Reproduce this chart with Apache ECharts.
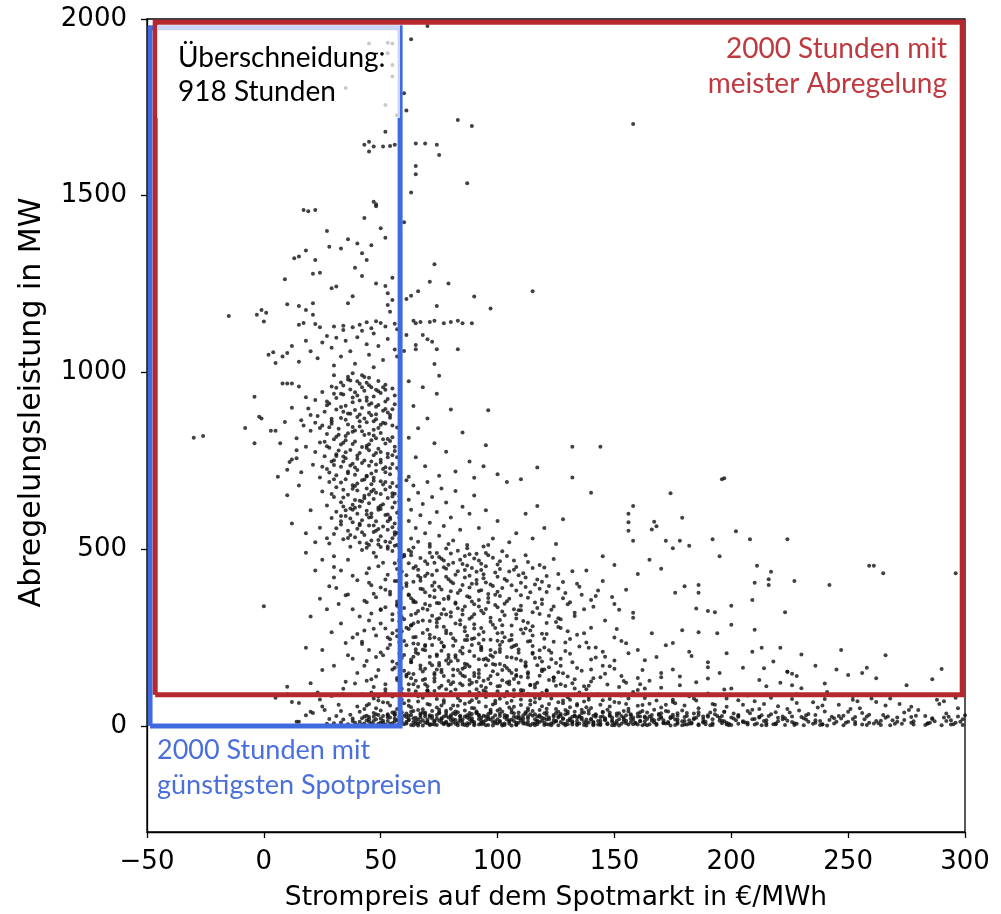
<!DOCTYPE html>
<html>
<head>
<meta charset="utf-8">
<script src="https://cdn.jsdelivr.net/npm/echarts@6/dist/echarts.min.js"></script>
<style>
  html, body { margin: 0; padding: 0; background: #fff; }
  #chart { width: 1001px; height: 914px; }
</style>
</head>
<body>
<div id="chart"></div>
<script>
var topPoints = [
  [70,1980],[63,1943],[45,1931],[53,1933],[55,1931],[53,1903],[55,1870],[55,1837],[52,1757],[57,1728],[35,1805],[28,1805],
  [60,1790],[61,1741],[83,1714],[89,1697],[158,1703],[52,1681],[43,1644],[45,1653],[47,1639],[45,1625],[51,1639],[54,1641],
  [56,1644],[65,1648],[69,1648],[74,1644],[75,1615],[65,1584],[65,1561],[87,1535],[63,1509],[47,1483],[48,1476],[48,1470],
  [17,1460],[19,1456],[22,1460],[43,1437],[60,1425],[27,1400],[50,1408],[52,1381],[36,1377],[40,1365],[33,1351],[28,1356],
  [46,1360],[42,1337],[44,1318],[18,1345],[22,1318],[13,1323],[15,1328],[39,1296],[73,1306],[24,1282],[21,1279],[42,1273],
  [9,1264],[55,1268],[71,1257],[79,1252],[48,1252],[52,1245],[53,1224],[31,1243],[29,1238],[115,1230],[66,1230],[63,1217],
  [61,1208],[90,1215],[38,1216],[36,1196],[21,1196],[10,1193],[15,1188],[74,1188],[97,1181],[18,1177],[21,1163],[-1,1177],
  [1,1169],[-3,1163],[0,1144],[-15,1160],[53,1191],[54,1172],[55,1205],[64,1146],[67,1143],[71,1143],[73,1146],[77,1139],
  [80,1143],[83,1146],[85,1139],[89,1139],[65,1139],[15,1135],[17,1140],[22,1137],[24,1128],[30,1130],[34,1132],[34,1120],
  [38,1128],[41,1135],[44,1142],[46,1125],[48,1145],[42,1118],[50,1140],[52,1130],[47,1110],[56,1138],[57,1122],[61,1106],
  [68,1106],[70,1094],[72,1087],[65,1078],[65,1066],[74,1066],[83,1066],[60,1061],[73,1024],[75,991],[2,1050],[4,1057],
  [8,1045],[10,1055],[5,1027],[27,1103],[31,1098],[25,1085],[35,1090],[40,1100],[44,1080],[18,1090],[12,1075],[20,1060],
  [29,1070],[37,1060],[49,1075],[53,1095],[56,1065],[45,1050],[23,1040],[33,1045],[51,1035],[39,1025],[47,1015],[57,1045],
  [30,1020],[15,1030]
];

var coreUpper = [
  [38,998],[42,992],[45,985],[36,980],[49,976],[33,972],[41,968],[52,965],[29,960],[46,958],[55,955],[37,952],[43,948],
  [25,945],[50,942],[34,938],[40,935],[47,932],[31,928],[53,925],[22,922],[44,920],[38,916],[28,912],[56,910],[35,906],
  [48,903],[42,900],[19,898],[31,895],[51,892],[26,889],[45,886],[37,883],[54,880],[23,877],[40,874],[33,871],[48,868],
  [16,865],[29,862],[44,859],[52,856],[36,853],[25,850],[41,847],[57,844],[32,841],[47,838],[20,835],[38,832],[50,829],
  [27,826],[43,823],[35,820],[55,817],[14,814],[30,811],[46,808],[39,805],[24,802],[52,799],[33,796],[44,793],[18,790],
  [28,787],[49,784],[37,781],[56,778],[22,775],[41,772],[31,769],[47,766],[26,763],[53,760],[35,757],[12,754],[43,751],
  [29,748],[50,745],[38,742],[21,739],[45,736],[33,733],[57,730],[27,727],[40,724],[48,721],[16,718],[36,715],[54,712],
  [31,709],[44,706],[24,703],[40,975],[34,963],[48,951],[30,940],[44,929],[52,918],[27,907],[39,894],[46,879],[35,866],
  [50,852],[24,843],[42,834],[32,824],[48,814],[38,798],[27,791],[45,780],[53,770],[34,762],[42,744],[30,738],[51,727],
  [39,711],[47,702],[56,790],[57,760],[58,722],[55,850],[56,935],[62,975],[68,958],[74,940],[64,905],[80,895],[96,893],
  [70,870],[66,842],[85,830],[62,815],[73,800],[95,794],[78,776],[65,760],[88,748],[94,735],[117,731],[69,735],[82,720],
  [100,712],[132,703],[62,705],[75,708],[90,702],[104,690],[110,698],[-8,843],[-4,931],[-4,800],[-2,875],[-1,870],[3,835],
  [5,835],[7,800],[6,705],[11,747],[14,757],[8,969],[10,969],[12,969],[-30,815],[-26,820],[15,960],[18,930],[12,900],
  [20,880],[9,860],[14,780],[10,725],[17,850],[43,987],[51,958],[39,944],[46,913],[33,902],[53,887],[41,862],[29,855],
  [49,843],[36,828],[54,806],[45,797],[32,779],[40,765],[50,753],[37,737],[55,741],[28,717],[46,714],[34,748],
  [36,988],[44,971],[31,957],[49,947],[38,929],[27,918],[45,909],[52,897],[34,889],[41,881],[29,869],[47,862],[54,872],
  [22,858],[38,846],[45,827],[31,818],[51,811],[26,804],[42,789],[48,772],[35,774],[55,766],[30,752],[46,748],[39,731],
  [52,718],[25,733]
];

var coreLower = [
  [35,698],[42,695],[50,692],[28,690],[55,687],[46,684],[38,681],[57,678],[31,675],[44,672],[52,669],[40,666],[25,663],
  [48,660],[56,657],[36,654],[43,651],[30,648],[53,645],[47,642],[39,639],[58,636],[33,633],[45,630],[51,627],[27,624],
  [41,621],[55,618],[37,615],[49,612],[44,609],[31,606],[57,603],[40,600],[52,597],[35,594],[46,591],[29,588],[54,585],
  [42,582],[48,579],[38,576],[56,573],[33,570],[45,567],[51,564],[24,561],[40,558],[53,555],[36,552],[47,549],[57,546],
  [30,543],[43,540],[50,537],[39,534],[55,531],[34,528],[46,525],[52,522],[41,519],[28,516],[49,513],[56,510],[37,507],
  [44,504],[53,501],[47,694],[40,686],[54,676],[34,668],[50,656],[43,644],[56,632],[38,626],[49,618],[35,610],[53,598],
  [45,590],[41,572],[55,562],[48,552],[37,540],[54,520],[45,512],[50,506],[33,594],[58,650],[58,590],[58,530],[10,653],
  [12,573],[18,545],[20,610],[15,680],[22,520],[61,695],[64,680],[70,690],[76,672],[66,660],[82,665],[72,648],[62,640],
  [90,652],[68,628],[78,632],[85,620],[63,612],[74,605],[95,610],[67,596],[80,590],[88,600],[62,580],[71,575],[77,566],
  [100,580],[65,560],[84,555],[92,560],[69,545],[75,538],[63,530],[81,525],[98,530],[108,545],[71,515],[87,512],[64,505],
  [78,502],[94,508],[105,520],[115,530],[117,622],[140,660],[128,585],[120,560],[112,600],[125,515],[174,658],[158,622],
  [156,600],[156,576],[156,552],[179,589],[167,578],[168,565],[166,556],[158,524],[172,524],[178,524],[182,510],[175,503],
  [192,528],[202,551],[208,528],[224,528],[197,701],[196,698],[144,790],[132,790],[43,697],[33,689],[51,683],[38,671],
  [46,663],[29,656],[55,649],[41,637],[34,621],[50,614],[44,598],[37,587],[53,579],[47,567],[31,559],[42,548],[56,541],
  [36,532],[49,526],[27,531],[44,517],[53,508],[58,700],[58,610],[58,560],[58,505]
];

var midPoints = [
  [42,498],[55,495],[63,492],[71,490],[80,488],[88,486],[96,483],[104,481],[48,479],[59,477],[67,475],[76,473],[84,470],
  [92,468],[101,466],[113,464],[51,462],[62,460],[70,458],[79,456],[87,454],[95,452],[108,450],[120,448],[45,446],[57,444],
  [66,442],[74,440],[83,438],[91,436],[99,434],[111,432],[126,430],[53,428],[61,426],[69,424],[78,422],[86,420],[94,418],
  [103,416],[117,414],[40,412],[56,410],[64,408],[73,406],[81,404],[89,402],[97,400],[106,398],[122,396],[135,394],[50,392],
  [59,390],[67,388],[76,386],[84,384],[92,382],[100,380],[114,378],[129,376],[47,374],[54,372],[62,370],[71,368],[79,366],
  [88,364],[96,362],[105,360],[119,358],[140,356],[43,354],[57,352],[65,350],[74,348],[82,346],[90,344],[99,342],[110,340],
  [124,338],[52,336],[60,334],[68,332],[77,330],[85,328],[93,326],[102,324],[115,322],[133,320],[46,318],[55,316],[63,314],
  [72,312],[80,310],[89,308],[97,306],[108,304],[127,302],[47,490],[60,484],[75,478],[90,474],[58,466],[73,462],[85,458],
  [100,457],[49,452],[64,447],[78,445],[93,441],[105,437],[44,432],[58,430],[72,427],[88,425],[100,422],[112,420],[52,414],
  [67,411],[80,409],[95,406],[110,405],[128,407],[46,398],[61,396],[75,394],[88,392],[102,390],[118,388],[54,380],[69,378],
  [83,376],[96,373],[110,370],[48,364],[63,361],[77,359],[92,356],[104,353],[131,350],[57,344],[71,341],[86,338],[100,336],
  [117,334],[50,328],[66,325],[80,322],[94,319],[108,316],[122,312],[59,308],[75,305],[88,303],[145,480],[150,455],[138,440],
  [160,430],[145,410],[155,385],[142,368],[150,345],[137,330],[158,320],[165,470],[170,445],[180,395],[186,399],[186,377],
  [176,377],[217,436],[216,415],[216,399],[210,405],[227,410],[242,399],[259,453],[261,453],[265,432],[296,432],[211,453],
  [209,356],[195,480],[200,340],[185,332],[190,325],[193,322],[223,322],[18,490],[25,470],[22,440],[30,420],[28,395],
  [35,370],[32,345],[38,330],[0,339],[24,360],[20,310],[36,470],[33,440],[30,480],[30,450],[38,425],[45,405],[52,385],
  [36,372],[44,350],[50,330],[41,310],[31,390],[27,330],[57,340],[57,410],[56,460],
  [57,512],[62,498],[66,521],[71,507],[74,489],[79,515],[83,496],[87,503],[91,487],[96,512],[102,494],[58,471],[63,483],
  [69,466],[72,478],[81,462],[86,481],[93,459],[98,476],[107,468],[112,483],[118,455],[124,472],[59,437],[65,452],[70,431],
  [77,449],[82,428],[89,447],[94,429],[101,444],[109,426],[115,447],[121,424],[132,438],[61,404],[67,419],[72,397],[79,415],
  [85,399],[91,413],[98,396],[104,411],[112,393],[119,408],[126,389],[134,402],[143,383],[62,372],[68,387],[73,364],[80,381],
  [87,367],[93,384],[101,368],[108,383],[113,363],[121,379],[128,361],[136,371],[149,365],[58,335],[64,351],[70,329],[75,347],
  [83,333],[89,352],[95,331],[103,346],[109,327],[116,349],[123,329],[130,344],[141,337],[152,329],[60,302],[65,318],[71,297],
  [78,315],[84,299],[90,316],[97,295],[103,313],[111,297],[118,317],[125,294],[133,311],[146,298],[158,306]
];

var lowMidPoints = [
  [45,298],[58,296],[66,294],[74,292],[82,290],[90,288],[98,286],[106,284],[115,282],[126,280],[140,278],[52,276],[62,274],
  [70,272],[78,270],[86,268],[94,266],[102,264],[111,262],[121,260],[134,258],[48,256],[57,254],[65,252],[73,250],[81,248],
  [89,246],[97,244],[105,242],[114,240],[124,238],[138,236],[155,234],[42,232],[54,230],[61,228],[69,226],[77,224],[85,222],
  [93,220],[101,218],[109,216],[118,214],[129,212],[145,210],[50,208],[58,206],[66,204],[74,202],[82,200],[90,198],[98,196],
  [106,194],[116,192],[127,190],[140,188],[163,186],[44,184],[55,182],[63,180],[71,178],[79,176],[87,174],[95,172],[103,170],
  [112,168],[122,166],[134,164],[150,162],[175,160],[49,158],[60,156],[68,154],[76,152],[84,150],[92,148],[100,146],[108,144],
  [118,142],[130,140],[144,138],[160,136],[190,134],[46,132],[57,130],[65,128],[73,126],[81,124],[89,122],[97,120],[105,118],
  [114,116],[125,114],[137,112],[152,110],[170,108],[200,106],[52,104],[62,102],[70,100],[50,290],[63,285],[77,281],[93,277],
  [110,273],[130,268],[55,262],[71,258],[87,255],[103,251],[120,247],[150,250],[60,240],[76,236],[92,233],[108,229],[135,225],
  [53,220],[68,216],[84,212],[99,208],[115,204],[160,215],[64,196],[79,192],[94,188],[110,185],[132,180],[57,176],[72,172],
  [88,168],[104,164],[120,160],[145,170],[67,162],[83,158],[98,155],[113,152],[128,149],[170,150],[61,145],[77,141],[92,137],
  [107,133],[122,130],[140,126],[155,122],[185,124],[69,118],[85,115],[100,112],[116,109],[133,106],[160,102],[75,108],
  [91,104],[47,110],[40,150],[36,200],[38,250],[43,270],[35,125],[30,170],[25,158],[18,221],[10,111],[20,121],[210,272],
  [186,265],[194,262],[200,286],[179,271],[198,206],[209,210],[213,221],[221,221],[230,202],[247,215],[266,200],[218,182],
  [214,163],[290,161],[286,132],[224,153],[228,141],[226,148],[236,170],[245,160],[250,144],[258,165],[256,150],[221,122],
  [230,107],[226,115],[175,235],[182,210],[168,195],[190,180],[205,165],[178,140],[195,150],[212,130],[165,128],[240,120],
  [275,115],[262,135],[55,300],[33,290],[47,275],[40,260],[53,250],[35,235],[45,215],[51,200],[38,190],[43,170],[55,160],
  [48,140],[39,120],[52,118],[34,105],[46,95],[57,270],[29,265],[42,238],[25,215],[44,128],[48,195],[56,165],[63,135],
  [70,112],[78,185],[86,140],[94,128],[101,175],[109,122],[117,172],[124,128],[54,245],[66,232],[78,262],[90,248],[102,238],
  [115,256],[83,185],[97,200],[73,150],[88,130],[106,150],[62,118],[74,160],[95,108],[111,100],[127,118],[140,160],[150,185],
  [146,148],[59,268],[63,284],[68,263],[74,281],[80,261],[86,279],[92,259],[99,277],[106,257],[112,276],[119,261],[127,277],
  [137,262],[151,274],[166,262],[58,237],[64,251],[69,229],[75,246],[81,227],[87,243],[93,224],[100,241],[106,223],[113,239],
  [120,222],[129,236],[139,221],[153,240],[172,228],[60,201],[65,217],[71,196],[76,213],[82,194],[88,211],[95,191],[101,209],
  [108,190],[115,207],[123,189],[131,204],[142,194],[156,206],[183,198],[58,167],[63,181],[69,162],[75,178],[81,160],[86,176],
  [92,158],[99,173],[105,157],[112,172],[119,155],[127,170],[136,156],[148,169],[162,158],[190,166],[57,136],[62,149],[68,130],
  [73,145],[79,127],[85,143],[91,125],[97,141],[104,123],[110,139],[117,122],[124,137],[132,121],[141,135],[154,127],[170,138],
  [59,105],[64,118],[70,101],[76,114],[82,103],[88,117],[94,100],[101,113],[107,102],[114,116],[121,101],[129,113],[138,104],
  [147,117],[163,106],[178,115],[197,103],[215,112]
];

var lowBand = [
  [36,5],[40,3],[43,7],[46,2],[49,6],[52,4],[55,8],[57,2],[60,5],[63,3],[66,7],[68,1],[71,5],[74,3],[77,8],[79,2],[82,6],
  [85,4],[88,7],[90,2],[93,5],[96,3],[99,8],[102,1],[105,6],[108,4],[111,7],[114,2],[117,5],[120,3],[123,8],[126,2],[129,6],
  [132,4],[135,7],[138,1],[141,5],[144,3],[147,8],[150,2],[153,6],[156,4],[159,7],[162,2],[165,5],[168,3],[171,8],[174,1],
  [177,6],[180,4],[183,7],[186,2],[189,5],[192,3],[196,8],[199,2],[203,6],[207,4],[211,7],[215,2],[219,5],[223,3],[227,8],
  [231,2],[235,6],[239,4],[244,7],[248,2],[253,5],[258,3],[263,8],[268,2],[273,6],[278,4],[284,7],[290,2],[295,5],[299,3],
  [34,18],[38,14],[42,22],[45,12],[48,19],[51,15],[54,24],[56,13],[59,20],[62,16],[65,23],[67,11],[70,18],[73,14],[76,22],
  [78,12],[81,19],[84,15],[87,24],[89,13],[92,20],[95,16],[98,23],[101,11],[104,18],[107,14],[110,22],[113,12],[116,19],
  [119,15],[122,24],[125,13],[128,20],[131,16],[134,23],[137,11],[140,18],[143,14],[146,22],[149,12],[152,19],[155,15],
  [158,24],[161,13],[164,20],[167,16],[170,23],[173,11],[176,18],[180,14],[184,22],[188,12],[192,19],[196,15],[200,24],
  [205,13],[210,20],[215,16],[220,23],[226,11],[232,18],[238,14],[244,22],[250,12],[257,19],[264,15],[271,24],[278,13],
  [286,20],[294,16],[37,32],[41,40],[44,29],[47,37],[50,44],[53,30],[56,39],[58,27],[61,35],[64,42],[67,31],[69,38],[72,28],
  [75,36],[78,43],[80,30],[83,39],[86,27],[89,34],[91,41],[94,29],[97,37],[100,44],[103,31],[106,38],[109,28],[112,35],
  [115,42],[118,30],[121,39],[124,27],[127,34],[130,41],[133,29],[136,37],[139,44],[142,31],[145,38],[148,28],[151,35],
  [154,42],[157,30],[161,39],[165,27],[169,34],[173,41],[177,29],[181,37],[186,31],[191,38],[196,28],[201,35],[207,42],
  [213,30],[219,39],[226,27],[233,34],[240,41],[248,29],[256,37],[265,31],[274,38],[283,28],[292,35],[40,55],[45,62],
  [48,50],[51,67],[54,58],[57,48],[60,64],[63,53],[66,69],[68,47],[71,60],[74,52],[77,66],[80,49],[83,57],[86,63],[89,51],
  [92,68],[95,55],[98,61],[101,48],[104,65],[107,54],[110,59],[113,50],[116,67],[119,56],[122,62],[125,48],[128,64],
  [131,53],[134,58],[137,69],[140,51],[144,60],[148,55],[152,66],[156,49],[160,57],[165,63],[170,52],[175,68],[180,58],
  [186,50],[192,62],[198,54],[205,60],[212,48],[220,56],[228,65],[237,52],[246,60],[255,50],[266,58],[277,54],[289,62],
  [297,50],[42,90],[47,78],[52,95],[55,83],[59,74],[62,88],[65,98],[68,80],[71,92],[74,76],[77,86],[80,96],[83,79],[86,89],
  [89,73],[92,94],[95,82],[98,87],[101,77],[104,97],[107,84],[110,75],[113,91],[116,80],[119,93],[123,78],[127,88],[131,74],
  [135,95],[139,82],[143,90],[148,76],[153,86],[158,96],[163,79],[169,89],[175,74],[182,84],[190,92],[198,78],[207,86],
  [217,80],[228,90],[240,76],[252,84],[268,78],[282,88],[296,80],[12,68],[15,65],[21,37],[15,12],[14,12],[20,40],[25,55],
  [28,20],[30,8],[26,45],[32,60],[29,85],[23,95],[18,30],[33,10],[31,28],[27,6],[24,75],[34,90],[10,90],[5,80],[33,42],
  [39,9],[44,16],[47,26],[50,10],[53,33],[58,9],[61,25],[64,11],[66,45],[70,8],[72,21],[75,46],[78,9],[80,25],[82,41],
  [85,10],[87,30],[90,50],[93,9],[95,27],[97,46],[100,7],[103,24],[105,52],[108,9],[111,30],[113,44],[116,8],[118,26],
  [121,49],[124,9],[127,29],[129,45],[132,9],[135,26],[138,53],[141,9],[144,25],[147,46],[150,8],[153,28],[156,41],[159,9],
  [163,27],[167,46],[171,9],[175,25],[179,44],[183,9],[188,27],[193,45],[198,9],[203,28],[209,46],[215,8],[222,27],[229,44],
  [236,9],[243,26],[251,48],[259,9],[267,27],[276,45],[285,9],[293,26],[43,48],[49,72],[56,31],[62,57],[69,33],[76,58],
  [84,71],[91,36],[99,71],[106,46],[114,72],[120,21],[128,72],[136,46],[145,73],[155,62],[162,42],[172,60],[185,72],[197,40],
  [210,70],[224,48],[235,67],[250,40],[262,68],[280,45],[291,70],[224,153],[241,96],[252,74],[260,78],[298,12],[300,30]
];

var lowDense = [
  [41,12],[43,27],[46,8],[48,33],[50,21],[52,2],[53,14],[55,38],[57,17],[58,4],[60,29],[61,12],[63,40],[64,22],[65,6],
  [67,35],[68,16],[69,27],[71,3],[72,42],[73,13],[74,31],[76,19],[77,5],[78,37],[79,24],[81,11],[82,33],[83,2],[84,20],
  [86,44],[87,8],[88,28],[89,16],[91,38],[92,4],[93,23],[94,12],[96,34],[97,18],[98,1],[99,30],[101,14],[102,41],[103,7],
  [104,26],[106,18],[107,36],[108,3],[109,22],[111,12],[112,39],[113,27],[115,6],[116,33],[117,15],[118,45],[120,9],
  [121,31],[122,19],[123,2],[125,37],[126,24],[127,11],[129,33],[130,5],[131,21],[133,40],[134,14],[135,28],[137,3],
  [138,18],[139,35],[141,11],[142,26],[144,6],[145,40],[146,19],[148,31],[149,2],[151,14],[152,36],[154,24],[155,8],
  [157,33],[158,17],[160,4],[161,27],[163,13],[164,38],[166,21],[168,6],[169,31],[171,16],[172,42],[174,25],[176,3],
  [177,36],[179,13],[181,28],[182,6],[184,19],[186,39],[188,10],[190,26],[191,2],[193,33],[195,15],[197,40],[199,6],
  [201,21],[203,31],[205,11],[208,36],[210,4],[212,24],[214,14],[217,33],[219,7],[222,19],[225,38],[227,3],[230,25],
  [233,12],[236,31],[239,5],[242,17],[246,28],[249,9],[252,20],[256,4],[259,32],[262,14],[266,23],[270,6],[274,17],
  [279,29],[283,3],[287,13],[291,24],[296,9],[299,19],[44,58],[49,83],[53,66],[58,92],[62,71],[66,84],[70,62],[73,99],
  [77,73],[81,58],[84,88],[88,67],[91,79],[95,96],[99,64],[103,84],[106,71],[110,93],[114,61],[118,78],[121,86],[126,67],
  [130,81],[134,62],[139,74],[145,87],[150,68],[156,78],[162,59],[168,72],[176,64],[184,78],[193,60],[203,73],[214,62],
  [226,76],[239,58],[254,70],[272,62],[288,74],[58,125],[64,147],[69,133],[75,171],[80,118],[85,162],[90,141],[96,186],
  [102,129],[108,158],[113,137],[119,182],[126,152],[133,132],[139,114],[146,196],[153,141],[161,118],[59,192],[65,208],
  [72,229],[79,201],[86,243],[93,214],[100,262],[107,226],[114,270],[123,207],[131,246],[142,222],[61,278],[68,298],
  [76,317],[84,287],[92,338],[101,300],[110,327],[121,291],[64,355],[73,384],[82,349],[91,402],[99,371],[107,442],
  [116,400],[66,425],[77,468],[86,441],[95,489],[60,480],[38,21],[42,4],[45,25],[47,14],[51,28],[54,6],[56,21],[59,11],
  [62,29],[64,2],[66,18],[69,9],[71,26],[73,4],[75,15],[78,29],[80,5],[82,17],[84,27],[86,3],[88,19],[90,11],[92,29],
  [94,6],[96,20],[99,13],[101,28],[103,3],[105,16],[107,26],[109,9],[111,21],[113,4],[115,29],[117,12],[119,23],[121,5],
  [124,17],[126,28],[128,7],[130,15],[132,26],[134,3],[136,19],[139,10],[141,29],[143,4],[146,16],[149,24],[151,7],
  [154,19],[157,11],[160,27],[163,5],[166,15],[170,25],[173,8],[177,18],[181,4],[185,23],[189,12],[194,28],[198,4],
  [202,16],[207,9],[212,26],[218,5],[224,15],[231,22],[238,3],[245,12],[253,25],[261,7],[269,16],[277,9],[286,22],[294,4]
];

var denseFill = [
  [45,19],[47,3],[49,31],[51,9],[53,24],[55,1],[56,33],[58,16],[59,39],[61,7],[62,20],[63,31],[65,14],[66,1],[67,24],
  [68,38],[70,12],[71,30],[72,5],[74,21],[75,39],[76,10],[77,27],[79,4],[80,17],[81,36],[83,9],[84,29],[85,18],[87,1],
  [88,37],[89,22],[90,6],[92,32],[93,15],[95,2],[96,25],[97,40],[98,11],[100,19],[101,35],[102,5],[104,29],[105,12],
  [106,1],[108,24],[109,38],[110,15],[112,6],[113,21],[114,33],[116,2],[117,27],[118,11],[120,36],[121,18],[122,4],
  [124,31],[125,14],[126,40],[128,22],[129,2],[130,35],[132,13],[133,28],[134,6],[136,23],[137,38],[138,9],[140,20],
  [141,2],[142,33],[144,15],[145,27],[147,5],[148,38],[149,17],[151,29],[152,1],[154,12],[155,30],[157,21],[158,5],
  [160,35],[161,14],[163,24],[164,2],[166,31],[167,10],[169,19],[170,36],[172,7],[174,22],[175,32],[177,11],[179,2],
  [180,25],[182,16],[184,35],[186,5],[188,20],[190,30],[192,8],[195,23],[197,13],[200,3],[203,26],[206,10],[209,19],
  [213,2],[216,28],[220,13],[223,22],[228,6],[232,30],[236,16],[241,1],[247,21],[253,11],[258,27],[264,3],[271,12],
  [277,25],[284,7],[292,14],[297,27],[59,92],[61,140],[63,188],[64,233],[66,111],[67,171],[69,214],[70,95],[71,248],
  [73,135],[74,198],[76,159],[77,226],[78,104],[80,183],[81,143],[82,241],[84,120],[85,205],[86,166],[88,96],[89,229],
  [90,150],[92,189],[93,113],[94,244],[96,133],[97,215],[98,175],[100,98],[101,229],[102,158],[104,195],[105,126],
  [106,244],[108,141],[109,207],[110,102],[112,180],[113,147],[115,226],[116,117],[118,193],[119,160],[121,99],[122,214],
  [124,137],[125,178],[58,320],[64,290],[69,345],[74,302],[79,360],[85,315],[90,276],[96,350],[102,285],[107,330],
  [113,292],[119,345],[126,305],[30,992],[37,977],[45,964],[52,951],[33,940],[41,921],[49,908],[55,896],[36,884],
  [43,870],[51,858],[28,845],[39,836],[47,822],[53,812],[34,801],[44,786],[50,775],[31,764],[40,756],[48,740],[54,729],
  [36,720],[44,708],[30,698],[52,690],[39,679],[47,668],[55,658],[34,646],[42,635],[50,623],[38,612],[46,601],[54,590],
  [33,579],[41,568],[49,557],[56,548],[39,617],[45,655],[52,732],[35,808],[48,882],[42,958]
];

var xTicks = [-50, 0, 50, 100, 150, 200, 250, 300];
var yTicks = [0, 500, 1000, 1500, 2000];

// Rahmen: [Preis links, MW unten, Preis rechts, MW oben]
var cheapBox = [-48.7, 0, 58.3, 1975];
var curtailBox = [-46.5, 88, 298.8, 1991];

function boxPath(b) {
  return [[b[0], b[1]], [b[2], b[1]], [b[2], b[3]], [b[0], b[3]], [b[0], b[1]]];
}

var allPoints = [].concat(topPoints, coreUpper, coreLower, midPoints, lowMidPoints, lowBand, lowDense, denseFill);

var chart = echarts.init(document.getElementById('chart'));

var noteFont = 'Lato';

var option = {
  animation: false,
  backgroundColor: '#fff',
  grid: {
    left: 147, right: 36, top: 19, bottom: 82, outerBoundsMode: 'none',
    show: true, borderColor: '#000', borderWidth: 1.3
  },
  xAxis: {
    type: 'value', min: -50, max: 300, interval: 50,
    name: 'Strompreis auf dem Spotmarkt in €/MWh', nameLocation: 'middle', nameGap: 53,
    nameTextStyle: { fontFamily: 'DejaVu Sans', fontSize: 26.5, color: '#000' },
    axisLine: { onZero: false, lineStyle: { color: '#000', width: 1.3 } },
    axisTick: { length: 6, lineStyle: { color: '#000', width: 1.3 } },
    axisLabel: {
      margin: 17, fontFamily: 'DejaVu Sans', fontSize: 26, color: '#000',
      formatter: function (v) { return v < 0 ? '\u2212' + (-v) : String(v); }
    },
    splitLine: { show: false }
  },
  yAxis: {
    type: 'value', min: -300, max: 2000,
    name: 'Abregelungsleistung in MW', nameLocation: 'middle', nameGap: 100,
    nameTextStyle: { fontFamily: 'DejaVu Sans', fontSize: 30, color: '#000', padding: [0, 0, 0, 46] },
    axisLine: { show: true, onZero: false, lineStyle: { color: '#000', width: 1.3 } },
    axisTick: { show: true, length: 6, customValues: yTicks, lineStyle: { color: '#000', width: 1.3 } },
    axisLabel: {
      margin: 20, fontFamily: 'DejaVu Sans', fontSize: 26, color: '#000', customValues: yTicks,
      formatter: function (v) { return String(v); }
    },
    splitLine: { show: false }
  },
  series: [
    {
      type: 'scatter', data: allPoints, symbol: 'circle', symbolSize: 4,
      itemStyle: { color: '#111' }, silent: true, z: 2
    },
    {
      type: 'line', data: boxPath(cheapBox), symbol: 'none', silent: true, z: 3,
      lineStyle: { color: '#4169E1', width: 5, join: 'miter' }
    },
    {
      type: 'line', data: boxPath(curtailBox), symbol: 'none', silent: true, z: 4,
      lineStyle: { color: '#B5282E', width: 5, join: 'miter' }
    }
  ],
  graphic: [
    { type: 'rect', z: 100, silent: true, shape: { x: 157, y: 25, width: 243, height: 93 },
      style: { fill: 'rgba(255,255,255,0.72)' } },
    { type: 'text', z: 101, silent: true, x: 178, y: 75,
      style: { text: 'Überschneidung:\n918 Stunden', font: '28px ' + noteFont, fill: '#000',
        align: 'left', verticalAlign: 'middle', textAlign: 'left', textVerticalAlign: 'middle', lineHeight: 34 } },
    { type: 'text', z: 101, silent: true, x: 947, y: 66,
      style: { text: '2000 Stunden mit\nmeister Abregelung', font: '28px ' + noteFont, fill: '#BF3A40',
        align: 'right', verticalAlign: 'middle', textAlign: 'right', textVerticalAlign: 'middle', lineHeight: 35 } },
    { type: 'text', z: 101, silent: true, x: 157, y: 768,
      style: { text: '2000 Stunden mit\ngünstigsten Spotpreisen', font: '27px ' + noteFont, fill: '#4A6FDC',
        align: 'left', verticalAlign: 'middle', textAlign: 'left', textVerticalAlign: 'middle', lineHeight: 35 } }
  ]
};

chart.setOption(option);
</script>
</body>
</html>
